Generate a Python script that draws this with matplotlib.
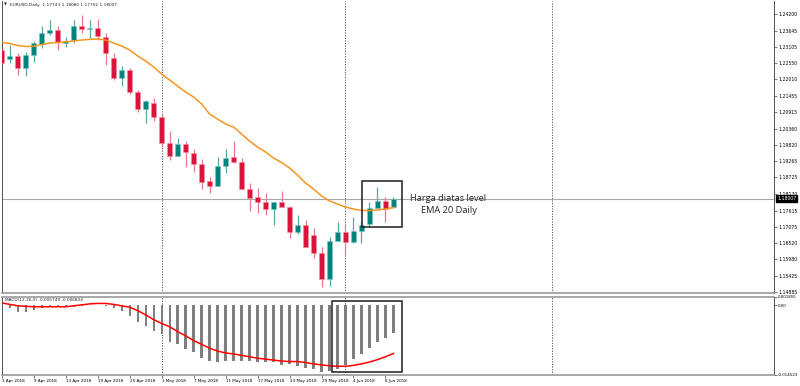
import numpy as np
import matplotlib.pyplot as plt
import matplotlib.transforms as mtransforms
from matplotlib.patches import Rectangle

# EURUSD daily bars, 3 Apr 2018 .. 11 Jun 2018
opens = [1.22994, 1.22692, 1.22793, 1.22390, 1.22826, 1.23195, 1.23563, 1.23664, 1.23228, 1.23329,
         1.23798, 1.23697, 1.23731, 1.23429, 1.22726, 1.22055, 1.22323, 1.21586, 1.21016, 1.21228,
         1.20759, 1.19887, 1.19452, 1.19834, 1.19532, 1.19174, 1.18594, 1.18436, 1.19107, 1.19418,
         1.19251, 1.18346, 1.18058, 1.17890, 1.17666, 1.17890, 1.17743, 1.16885, 1.17130, 1.16794,
         1.16181, 1.15310, 1.16593, 1.16885, 1.16550, 1.16938, 1.17153, 1.17709, 1.17944, 1.17743]
highs = [1.23094, 1.23161, 1.22893, 1.22927, 1.23295, 1.23798, 1.23999, 1.23798, 1.23429, 1.23999,
         1.24166, 1.23999, 1.24032, 1.23563, 1.22893, 1.22457, 1.22390, 1.21653, 1.21318, 1.21375,
         1.20849, 1.20289, 1.20055, 1.19944, 1.19666, 1.19341, 1.18748, 1.19418, 1.19666, 1.19954,
         1.19365, 1.18527, 1.18359, 1.18192, 1.17910, 1.18279, 1.17750, 1.17465, 1.17297, 1.17019,
         1.16402, 1.16737, 1.17220, 1.17186, 1.17408, 1.17274, 1.17910, 1.18393, 1.18078, 1.18080]
lows = [1.22457, 1.22558, 1.22156, 1.22122, 1.22592, 1.23061, 1.23496, 1.22994, 1.23094, 1.23228,
        1.23563, 1.23396, 1.23329, 1.22491, 1.21988, 1.21787, 1.21519, 1.20916, 1.20547, 1.20624,
        1.19753, 1.19307, 1.19430, 1.19063, 1.18916, 1.18326, 1.18192, 1.18420, 1.18882, 1.19220,
        1.18330, 1.17609, 1.17522, 1.17465, 1.17130, 1.17730, 1.16684, 1.16828, 1.16390, 1.16014,
        1.15042, 1.15085, 1.16580, 1.16090, 1.16540, 1.16516, 1.17052, 1.17700, 1.17240, 1.17702]
closes = [1.22558, 1.22793, 1.22390, 1.22826, 1.23228, 1.23563, 1.23664, 1.23262, 1.23295, 1.23798,
          1.23697, 1.23731, 1.23463, 1.22893, 1.22055, 1.22323, 1.21586, 1.21016, 1.21285, 1.20759,
          1.19867, 1.19452, 1.19844, 1.19566, 1.19174, 1.18580, 1.18436, 1.19107, 1.19375, 1.19230,
          1.18346, 1.18024, 1.17910, 1.17666, 1.17890, 1.17743, 1.16885, 1.17130, 1.16402, 1.16181,
          1.15310, 1.16603, 1.16885, 1.16550, 1.16938, 1.17130, 1.17689, 1.17944, 1.17656, 1.18007]

ema20 = [1.23252, 1.23211, 1.23144, 1.23111, 1.23118, 1.23178, 1.23228, 1.23245, 1.23268, 1.23295,
         1.23329, 1.23352, 1.23362, 1.23329, 1.23228, 1.23128, 1.22994, 1.22793, 1.22625, 1.22424,
         1.22189, 1.21988, 1.21787, 1.21586, 1.21419, 1.21184, 1.20849, 1.20681, 1.20514, 1.20413,
         1.20179, 1.19944, 1.19743, 1.19576, 1.19375, 1.19224, 1.19039, 1.18805, 1.18537, 1.18336,
         1.18101, 1.17934, 1.17833, 1.17733, 1.17666, 1.17615, 1.17615, 1.17632, 1.17666, 1.17716]

macd_main = [-0.0002, -0.0006, -0.0013, -0.0013, -0.0010, -0.0006, -0.0003, -0.0003, -0.0003, -0.0003,
             -0.0001, 0.0001, 0.0001, -0.0001, -0.0006, -0.0012, -0.0022, -0.0036, -0.0043, -0.0054,
             -0.0060, -0.0078, -0.0082, -0.0092, -0.0099, -0.0110, -0.0117, -0.0118, -0.0117, -0.0117,
             -0.0116, -0.0117, -0.0120, -0.0120, -0.0120, -0.0125, -0.0124, -0.0127, -0.0131, -0.0134,
             -0.0141, -0.0138, -0.0134, -0.0125, -0.0113, -0.0103, -0.0089, -0.0078, -0.0068, -0.0058]
macd_signal = [0.0005, 0.0002, -0.0001, -0.0002, -0.0003, -0.0003, -0.0003, -0.0003, -0.0003, -0.0001,
               0.0001, 0.0003, 0.0004, 0.0004, 0.0002, -0.0001, -0.0004, -0.0011, -0.0020, -0.0030,
               -0.0038, -0.0045, -0.0055, -0.0064, -0.0074, -0.0082, -0.0090, -0.0096, -0.0100, -0.0102,
               -0.0105, -0.0108, -0.0111, -0.0113, -0.0115, -0.0117, -0.0118, -0.0118, -0.0120, -0.0123,
               -0.0125, -0.0127, -0.0128, -0.0128, -0.0126, -0.0123, -0.0119, -0.0114, -0.0108, -0.0101]

date_labels = ["3 Apr 2018", "9 Apr 2018", "13 Apr 2018", "19 Apr 2018", "25 Apr 2018", "1 May 2018",
               "7 May 2018", "11 May 2018", "17 May 2018", "23 May 2018", "29 May 2018", "4 Jun 2018",
               "8 Jun 2018"]
price_ticks = [1.24200, 1.23645, 1.23105, 1.22550, 1.22010, 1.21455, 1.20915, 1.20360, 1.19820,
               1.19265, 1.18725, 1.18170, 1.17615, 1.17075, 1.16520, 1.15980, 1.15425, 1.14885]
last_price = 1.18007

W, H = 800, 386
BULL, BEAR = "#00847c", "#dc143c"
BULL_WICK, BEAR_WICK = "#55aaa4", "#e8798d"

fig = plt.figure(figsize=(W / 100, H / 100), dpi=100)
fig.patch.set_facecolor("white")
ax = fig.add_axes([1.5 / W, 1 - 293 / H, 772.5 / W, 292 / H])
ax2 = fig.add_axes([1.5 / W, 1 - 374.5 / H, 772.5 / W, 78 / H])

x = np.arange(len(opens))
o, h, l, c = map(np.array, (opens, highs, lows, closes))
up = c >= o

# candles
ax.vlines(x, l, h, colors=np.where(up, BULL_WICK, BEAR_WICK), lw=0.9, zorder=2)
bottoms = np.minimum(o, c)
heights = np.maximum(np.abs(c - o), 0.00008)
ax.bar(x, heights, bottom=bottoms, width=0.66, color=np.where(up, BULL, BEAR),
       edgecolor=np.where(up, "#7cc4bf", "#ef8da0"), linewidth=0.4, zorder=3)

# EMA 20
ax.plot(x, ema20, color="#f7961e", lw=1.1, zorder=4)

# last price line + label
ax.axhline(last_price, color="#a8a8a8", lw=0.8, zorder=1)
trans = mtransforms.blended_transform_factory(ax.transAxes, ax.transData)
ax.text(1.004, last_price, "1.18007", transform=trans, ha="left", va="center", fontsize=3.3,
        color="white", bbox=dict(boxstyle="square,pad=0.25", fc="black", ec="black"), zorder=6)

ax.set_xlim(-0.03, 96.6)
ax.set_ylim(1.14851, 1.24636)
ax.yaxis.tick_right()
ax.set_yticks(price_ticks)
ax.set_yticklabels([f"{v:.5f}" for v in price_ticks])
ax.tick_params(axis="y", length=2, width=0.5, labelsize=3.3, pad=1.5, color="#404040")
ax.set_xticks([])
ax.spines["top"].set_visible(False)
ax.spines["bottom"].set_color("#9a9a9a")
ax.spines["bottom"].set_linewidth(1.2)
for s in ("left", "right"):
    ax.spines[s].set_color("#505050")
    ax.spines[s].set_linewidth(0.7)

# highlight box + note
ax.add_patch(Rectangle((45.06, 1.17052), 5.0, 1.18604 - 1.17052, fill=False,
                       ec="#1e1e1e", lw=1.1, zorder=5))
ax.text(55.8, 1.18024, "Harga diatas level", ha="center", va="center", fontsize=6.7,
        family="Open Sans", color="#222222", zorder=5)
ax.text(55.9, 1.17609, "EMA 20 Daily", ha="center", va="center", fontsize=6.7,
        family="Open Sans", color="#222222", zorder=5)

fig.text(4 / W, 1 - 5 / H, "\u25bc", fontsize=2.6, va="center", ha="left", color="#222222")
fig.text(10 / W, 1 - 5 / H, "EURUSD,Daily  1.17743 1.18080 1.17702 1.18007", fontsize=3.1,
         va="center", ha="left", color="#222222")

# MACD window
ax2.bar(x, macd_main, width=0.28, color="#7f7f7f", zorder=2)
ax2.plot(x, macd_signal, color="#ff0000", lw=1.1, zorder=3)
ax2.set_xlim(-0.03, 96.6)
ax2.set_ylim(-0.014523, 0.001855)
ax2.yaxis.tick_right()
ax2.set_yticks([0.001855, 0.0, -0.014523])
ax2.set_yticklabels(["0.001855", "0.00", "-0.014523"])
ax2.tick_params(axis="y", length=2, width=0.5, labelsize=2.9, pad=1, color="#404040")
ax2.set_xticks(np.arange(0, 49, 4))
ax2.set_xticklabels(date_labels, ha="left")
ax2.tick_params(axis="x", length=2, width=0.5, labelsize=3.0, pad=1, color="#404040")
for s in ("top", "bottom"):
    ax2.spines[s].set_color("#9a9a9a")
    ax2.spines[s].set_linewidth(1.2)
for s in ("left", "right"):
    ax2.spines[s].set_color("#505050")
    ax2.spines[s].set_linewidth(0.7)
ax2.add_patch(Rectangle((41.3, -0.01396), 8.8, 0.00094 + 0.01396, fill=False,
                        ec="#1e1e1e", lw=1.1, zorder=5))
ax2.text(0.004, 0.985, "MACD(12,26,9) -0.005749 -0.006834", transform=ax2.transAxes,
         fontsize=3.1, va="top", ha="left", color="#222222")

# monthly separators
for sep in (20, 43, 68.8):
    for a in (ax, ax2):
        a.axvline(sep, color="#555555", lw=0.7, ls=(0, (1.2, 1.5)), zorder=1)

fig.savefig("out.png", dpi=100)
